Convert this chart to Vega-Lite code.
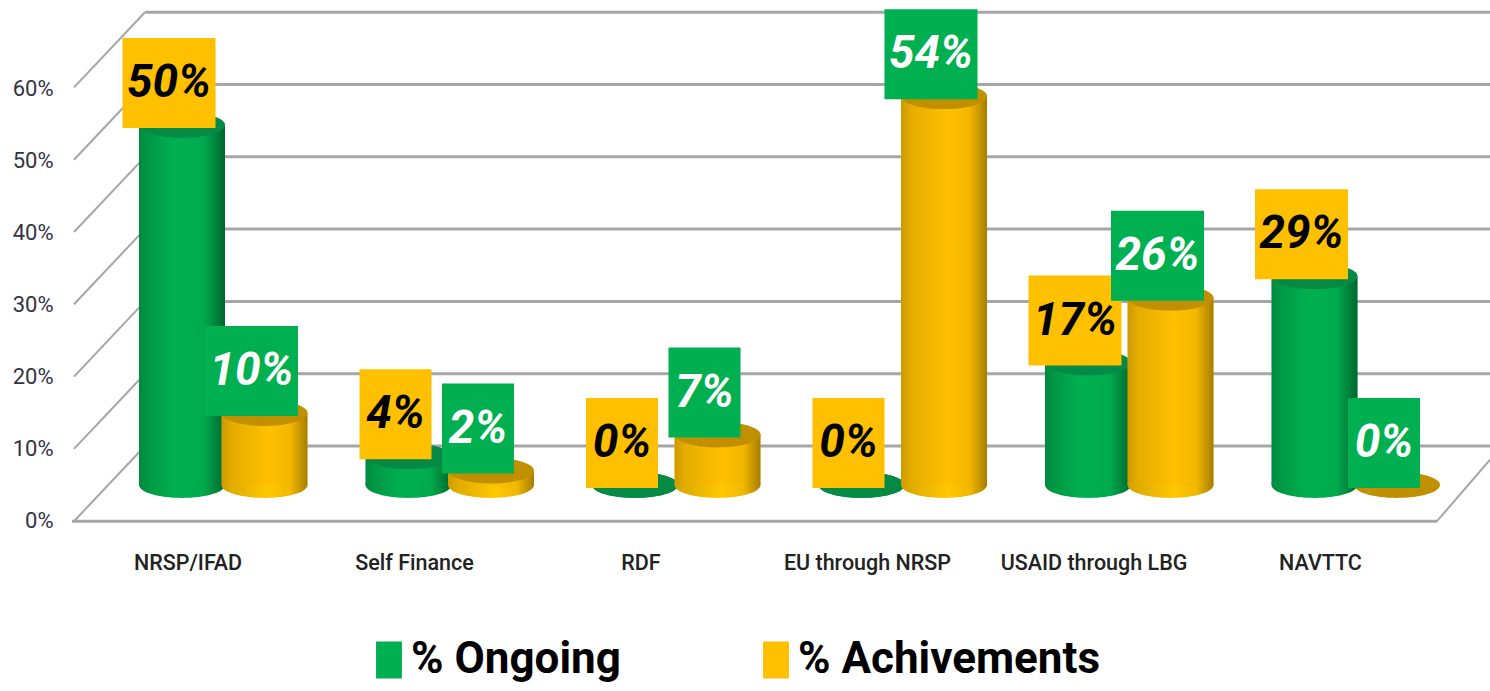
{
"$schema":"https://vega.github.io/schema/vega-lite/v6.json",
"width":1432,"height":540,
"autosize":{"type":"none"},
"padding":{"left":58,"top":0,"right":0,"bottom":151},
"background":"white",
"view":{"stroke":null},
"datasets":{
"rows":[
{"source":"NRSP/IFAD","series":"% Ongoing","value":50},
{"source":"NRSP/IFAD","series":"% Achivements","value":10},
{"source":"Self Finance","series":"% Ongoing","value":4},
{"source":"Self Finance","series":"% Achivements","value":2},
{"source":"RDF","series":"% Ongoing","value":0},
{"source":"RDF","series":"% Achivements","value":7},
{"source":"EU through NRSP","series":"% Ongoing","value":0},
{"source":"EU through NRSP","series":"% Achivements","value":54},
{"source":"USAID through LBG","series":"% Ongoing","value":17},
{"source":"USAID through LBG","series":"% Achivements","value":26},
{"source":"NAVTTC","series":"% Ongoing","value":29},
{"source":"NAVTTC","series":"% Achivements","value":0}
],
"ticks":[
{"tick":0,"front":-10.4},{"tick":10,"front":-0.4},{"tick":20,"front":9.6},{"tick":30,"front":19.6},{"tick":40,"front":29.6},{"tick":50,"front":39.6},{"tick":60,"front":49.6}
]
},
"data":{"name":"rows"},
"transform":[{"calculate":"datum.value + '%'","as":"label"}],
"resolve":{"scale":{"x":"independent","y":"independent"},"axis":{"x":"independent","y":"independent"}},
"layer":[
{
"data":{"name":"ticks"},
"transform":[],
"encoding":{
"y":{"field":"tick","type":"quantitative","axis":null,"scale":{"domain":[-13,61.69],"nice":false,"zero":false}}
},
"layer":[
{"mark":{"type":"rule","color":"#a6a6a6","strokeWidth":3},
"encoding":{"x":{"datum":87,"type":"quantitative","axis":null,"scale":{"domain":[0,1432],"nice":false,"zero":false}},"x2":{"datum":1432}}},
{"mark":{"type":"rule","color":"#a6a6a6","strokeWidth":2},
"encoding":{"x":{"datum":87,"type":"quantitative","axis":null,"scale":{"domain":[0,1432],"nice":false,"zero":false}},"x2":{"datum":16},"y2":{"field":"front"}}},
{"transform":[{"filter":"datum.tick === 0"}],"mark":{"type":"rule","color":"#a6a6a6","strokeWidth":3},
"encoding":{"x":{"datum":14,"type":"quantitative","axis":null,"scale":{"domain":[0,1432],"nice":false,"zero":false}},"x2":{"datum":1379},"y":{"field":"front","type":"quantitative","axis":null,"scale":{"domain":[-13,61.69],"nice":false,"zero":false}}}},
{"transform":[{"filter":"datum.tick === 0"}],"mark":{"type":"rule","color":"#a6a6a6","strokeWidth":2},
"encoding":{"x":{"datum":1379,"type":"quantitative","axis":null,"scale":{"domain":[0,1432],"nice":false,"zero":false}},"x2":{"datum":1432},"y":{"field":"front","type":"quantitative","axis":null,"scale":{"domain":[-13,61.69],"nice":false,"zero":false}},"y2":{"datum":-1.9}}}
]
},
{
"mark":{"type":"point","opacity":0},
"encoding":{
"x":{"field":"source","type":"nominal","sort":null,"title":null,
"scale":{"type":"band","domain":["NRSP/IFAD","Self Finance","RDF","EU through NRSP","USAID through LBG","NAVTTC"],"range":[16.75,1375.75],"padding":0},
"axis":{"domain":false,"ticks":false,"labelAngle":0,"labelPadding":12,"labelFont":"Roboto","labelFontSize":21.5,"labelFontWeight":500,"labelColor":"#222222","labelLimit":300,"grid":false}},
"y":{"field":"value","type":"quantitative","title":null,
"scale":{"domain":[-2.64,72.36],"nice":false,"zero":false},
"axis":{"values":[0,10,20,30,40,50,60],"labelExpr":"datum.value + '%'","domain":false,"ticks":false,"grid":false,"labelPadding":5,"labelFont":"Roboto","labelFontSize":22,"labelColor":"#333344"}}
}
},
{
"transform":[{"filter":"datum.series === '% Ongoing'"}],
"encoding":{
"x":{"field":"source","type":"nominal","sort":null,"axis":null,"scale":{"type":"band","domain":["NRSP/IFAD","Self Finance","RDF","EU through NRSP","USAID through LBG","NAVTTC"],"range":[10.75,1369.75],"padding":0}},
"y":{"field":"value","type":"quantitative","axis":null,"stack":null,"scale":{"domain":[-7.64,67.36],"nice":false,"zero":false}}
},
"layer":[
{"mark":{"type":"point","filled":true,"opacity":1,"size":7396,"shape":"M-1,0A1,0.3 0 1 1 1,0A1,0.3 0 1 1 -1,0Z","color":{"gradient":"linear","x1":0,"x2":1,"y1":0,"y2":0,"stops":[{"offset":0,"color":"#008a3e"},{"offset":0.12,"color":"#009944"},{"offset":0.42,"color":"#00B050"},{"offset":0.75,"color":"#00aa4d"},{"offset":1,"color":"#006a30"}]}},"encoding":{"y":{"datum":0,"type":"quantitative","axis":null,"scale":{"domain":[-7.64,67.36],"nice":false,"zero":false}}}},
{"mark":{"type":"bar","width":86},
"encoding":{"color":{"field":"series","type":"nominal","scale":{"domain":["% Ongoing","% Achivements"],"range":["#00B050","#FFC000"]},
"legend":{"title":null,"orient":"none","legendX":309,"legendY":632,"direction":"horizontal","columns":2,"columnPadding":133,"symbolType":"M-0.7,-1H0.7V1H-0.7Z","symbolSize":1369,"symbolStrokeWidth":0,"symbolOpacity":1,"labelFont":"Roboto","labelFontWeight":"bold","labelFontSize":44,"labelColor":"#000000","labelLimit":500,"labelOffset":0,"rowPadding":0,"clipHeight":56}}}},
{"mark":{"type":"bar","width":86,"color":{"gradient":"linear","x1":0,"x2":1,"y1":0,"y2":0,"stops":[{"offset":0,"color":"rgba(0,0,0,0.22)"},{"offset":0.12,"color":"rgba(0,0,0,0.13)"},{"offset":0.42,"color":"rgba(0,0,0,0)"},{"offset":0.75,"color":"rgba(0,0,0,0.03)"},{"offset":1,"color":"rgba(0,0,0,0.42)"}]}}},
{"mark":{"type":"point","filled":true,"opacity":1,"size":7396,"shape":"M-1,0A1,0.3 0 1 1 1,0A1,0.3 0 1 1 -1,0Z","color":"#058a45"}},
{"transform":[{"filter":"datum.value >= 10"}],"mark":{"type":"point","filled":true,"opacity":1,"size":8649,"yOffset":-42,"xOffset":-13,"shape":"M-1,-0.968H1V0.968H-1Z","color":"#FFC000"}},
{"transform":[{"filter":"datum.value < 10"}],"mark":{"type":"point","filled":true,"opacity":1,"size":8100,"yOffset":-42,"xOffset":-13,"shape":"M-0.8,-1H0.8V1H-0.8Z","color":"#FFC000"}},
{"mark":{"type":"text","yOffset":-42,"xOffset":-13,"font":"Roboto","fontWeight":"bold","fontStyle":"italic","fontSize":46,"color":"#000000","baseline":"middle","align":"center"},"encoding":{"text":{"field":"label","type":"nominal"}}}
]
},
{
"transform":[{"filter":"datum.series === '% Achivements'"}],
"encoding":{
"x":{"field":"source","type":"nominal","sort":null,"axis":null,"scale":{"type":"band","domain":["NRSP/IFAD","Self Finance","RDF","EU through NRSP","USAID through LBG","NAVTTC"],"range":[93.25,1452.25],"padding":0}},
"y":{"field":"value","type":"quantitative","axis":null,"stack":null,"scale":{"domain":[-7.64,67.36],"nice":false,"zero":false}}
},
"layer":[
{"transform":[{"filter":"datum.value > 0"}],"mark":{"type":"point","filled":true,"opacity":1,"size":7396,"shape":"M-1,0A1,0.3 0 1 1 1,0A1,0.3 0 1 1 -1,0Z","color":{"gradient":"linear","x1":0,"x2":1,"y1":0,"y2":0,"stops":[{"offset":0,"color":"#d0a000"},{"offset":0.12,"color":"#e0ad00"},{"offset":0.55,"color":"#FFC800"},{"offset":0.8,"color":"#f0b800"},{"offset":1,"color":"#a88000"}]}},"encoding":{"y":{"datum":0,"type":"quantitative","axis":null,"scale":{"domain":[-7.64,67.36],"nice":false,"zero":false}}}},
{"mark":{"type":"bar","width":86},
"encoding":{"color":{"field":"series","type":"nominal","scale":{"domain":["% Ongoing","% Achivements"],"range":["#00B050","#FFC000"]}}}},
{"mark":{"type":"bar","width":86,"color":{"gradient":"linear","x1":0,"x2":1,"y1":0,"y2":0,"stops":[{"offset":0,"color":"rgba(0,0,0,0.2)"},{"offset":0.12,"color":"rgba(0,0,0,0.1)"},{"offset":0.55,"color":"rgba(0,0,0,0)"},{"offset":0.8,"color":"rgba(0,0,0,0.05)"},{"offset":1,"color":"rgba(0,0,0,0.35)"}]}}},
{"mark":{"type":"point","filled":true,"opacity":1,"size":7396,"shape":"M-1,0A1,0.3 0 1 1 1,0A1,0.3 0 1 1 -1,0Z","color":"#C09000"}},
{"transform":[{"filter":"datum.value >= 10"}],"mark":{"type":"point","filled":true,"opacity":1,"size":8649,"yOffset":-42,"xOffset":-13,"shape":"M-1,-0.968H1V0.968H-1Z","color":"#00B050"}},
{"transform":[{"filter":"datum.value < 10"}],"mark":{"type":"point","filled":true,"opacity":1,"size":8100,"yOffset":-42,"xOffset":-13,"shape":"M-0.8,-1H0.8V1H-0.8Z","color":"#00B050"}},
{"mark":{"type":"text","yOffset":-42,"xOffset":-13,"font":"Roboto","fontWeight":"bold","fontStyle":"italic","fontSize":46,"color":"#ffffff","baseline":"middle","align":"center"},"encoding":{"text":{"field":"label","type":"nominal"}}}
]
}
]
}
